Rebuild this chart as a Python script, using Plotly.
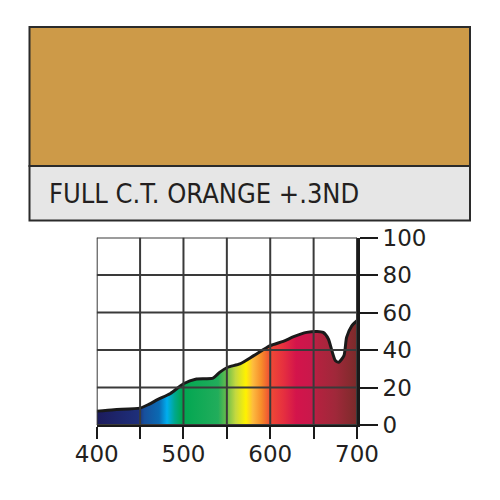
import plotly.graph_objects as go

# filter name and swatch colour
filter_name = "FULL C.T. ORANGE +.3ND"
swatch_color = "#CD9A48"

# spectral transmission (nm, %)
wavelength = [400, 420, 450, 460, 470, 485, 500, 515, 525, 534, 542, 551, 565,
              581, 600, 615, 627, 642, 654, 661, 667, 671, 675, 679, 685, 688,
              694, 700]
transmission = [7.4, 8.2, 9.0, 11.0, 13.5, 16.8, 22.0, 24.5, 24.7, 25.0, 28.2,
                30.8, 32.6, 37.0, 42.3, 44.6, 47.1, 49.4, 49.9, 49.4, 45.9,
                39.7, 34.4, 33.5, 37.0, 46.7, 52.9, 55.6]

# colour of the visible spectrum under the curve
spectrum_nm = [400, 448, 455, 472, 481, 490, 498, 540, 550, 560, 572, 580,
               590, 600, 615, 630, 648, 655, 675, 700]
spectrum_colors = ["#1C1B5C", "#1E2F7A", "#17509C", "#0B6AB3", "#00AEEF",
                   "#00A88C", "#00A651", "#22AD5B", "#6BBE4B", "#C3D840",
                   "#FFF200", "#FDBB3F", "#F68B2A", "#EF4A35", "#E6303F",
                   "#D3144B", "#C9184B", "#B3223F", "#A0283A", "#7B2B2A"]

x_ticks = [400, 450, 500, 550, 600, 650, 700]
x_labels = ["400", "", "500", "", "600", "", "700"]
y_ticks = [0, 20, 40, 60, 80, 100]

lo, hi = spectrum_nm[0], spectrum_nm[-1]
scale = [[(w - lo) / (hi - lo), c] for w, c in zip(spectrum_nm, spectrum_colors)]

fig = go.Figure()
fig.add_trace(go.Scatter(
    x=wavelength, y=transmission,
    mode="lines", fill="tozeroy",
    fillgradient=dict(type="horizontal", colorscale=scale, start=lo, stop=hi),
    line=dict(color="#1A1A1A", width=3, shape="spline", smoothing=0.6),
    hoverinfo="skip", showlegend=False,
))

# grid drawn over the coloured fill, like the printed swatch book
grid = dict(color="#3A3A3A", width=2)
shapes = []
for v in x_ticks:
    shapes.append(dict(type="line", xref="x", yref="y", x0=v, x1=v,
                       y0=y_ticks[0], y1=y_ticks[-1], line=grid, layer="above"))
for v in y_ticks:
    shapes.append(dict(type="line", xref="x", yref="y", x0=x_ticks[0],
                       x1=x_ticks[-1], y0=v, y1=v, line=grid, layer="above"))

# colour swatch and name box
border = dict(color="#2B2B2B", width=2)
shapes.append(dict(type="rect", xref="paper", yref="paper", x0=0.043, x1=0.924,
                   y0=0.684, y1=0.962, fillcolor=swatch_color, line=border))
shapes.append(dict(type="rect", xref="paper", yref="paper", x0=0.043, x1=0.924,
                   y0=0.575, y1=0.684, fillcolor="#E6E6E6", line=border))

fig.update_layout(
    width=500, height=500,
    margin=dict(l=0, r=0, t=0, b=0, autoexpand=False),
    paper_bgcolor="white", plot_bgcolor="white",
    shapes=shapes,
    annotations=[dict(text=filter_name, xref="paper", yref="paper",
                      x=0.078, y=0.63, xanchor="left", yanchor="middle",
                      showarrow=False,
                      font=dict(family="DejaVu Sans Condensed, Liberation Sans",
                                size=27, color="#231F20"))],
    font=dict(family="DejaVu Sans", color="#231F20"),
)
fig.update_xaxes(
    domain=[0.1774, 0.698], range=[400, 700],
    tickvals=x_ticks, ticktext=x_labels,
    ticks="outside", ticklen=12, tickwidth=2, tickcolor="#1A1A1A",
    tickfont=dict(size=23), ticklabelstandoff=-5,
    showgrid=False, zeroline=False,
    showline=True, linecolor="#1A1A1A", linewidth=2,
)
fig.update_yaxes(
    domain=[0.166, 0.541], range=[0, 100], side="right",
    tickvals=y_ticks, ticks="outside", ticklen=18, tickwidth=2,
    tickcolor="#1A1A1A", tickfont=dict(size=23), ticklabelstandoff=0,
    showgrid=False, zeroline=False,
    showline=True, linecolor="#1A1A1A", linewidth=3,
)

fig.write_html("out.html")
